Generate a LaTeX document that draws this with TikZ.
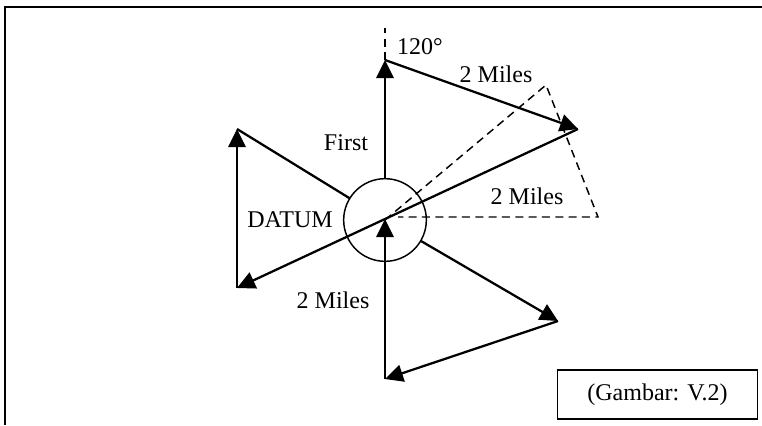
\documentclass[tikz,border=0pt]{standalone}
\usepackage{fontspec}
\setmainfont{Liberation Serif}
\usetikzlibrary{arrows.meta,positioning}

\begin{document}
\begin{tikzpicture}[
  x=0.75pt, y=-0.75pt,
  arr/.style={-{Triangle[length=13.5pt,width=13pt]}, line width=1.7pt},
  leg/.style={line width=1.7pt},
  aux/.style={dash pattern=on 6pt off 4pt, line width=1.1pt},
  lab/.style={inner sep=0pt, font=\fontsize{18}{20}\selectfont},
  framebox/.style={draw, line width=1.3pt}
]
  \useasboundingbox (0,0) rectangle (762,425);
  \coordinate (framea) at (762,7);
  \coordinate (frameb) at (5,7);
  \coordinate (framec) at (5,425);
  \draw[framebox] (framea) -- (frameb) -- (framec);
  % track points
  \node[circle, draw, line width=1.1pt, minimum size=62pt, inner sep=0pt, outer sep=0pt] (datum) at (385,220) {};
  \coordinate (top) at (385,60);
  \coordinate (topx) at (385,28);
  \coordinate (east) at (578,129);
  \coordinate (west) at (237,288);
  \coordinate (nw) at (237,129);
  \coordinate (se) at (558,321);
  \coordinate (south) at (385,379);
  \coordinate (mid) at (385,219);
  \coordinate (dasha) at (546,85);
  \coordinate (dashb) at (598,217);
  \coordinate (dashc) at (398,217);
  % dashed first try
  \draw[aux] (top) -- (topx);
  \draw[aux] (datum.center) -- (dasha) -- (dashb) -- (dashc);
  % legs
  \draw[arr] (datum) -- (top);
  \draw[arr] (top) -- (east);
  \draw[arr] (east) -- (west);
  \draw[arr] (west) -- (nw);
  \draw[leg] (nw) -- (datum);
  \draw[arr] (datum) -- (se);
  \draw[arr] (se) -- (south);
  \draw[arr] (south) -- (mid);
  %
  \node[lab] (angle) at (420,47) {120°};
  \node[lab] (milesa) at (496,74) {2 Miles};
  \node[lab] (milesb) at (527,196) {2 Miles};
  \node[lab] (first) at (346,143) {First};
  \node[lab] (datumlab) at (290,220) {DATUM};
  \node[lab] (milesc) at (333,300) {2 Miles};
  \node[framebox, lab, minimum width=150pt, minimum height=36.5pt] (gambar) at (657.5,394.5) {(Gambar: V.2)};
\end{tikzpicture}
\end{document}
